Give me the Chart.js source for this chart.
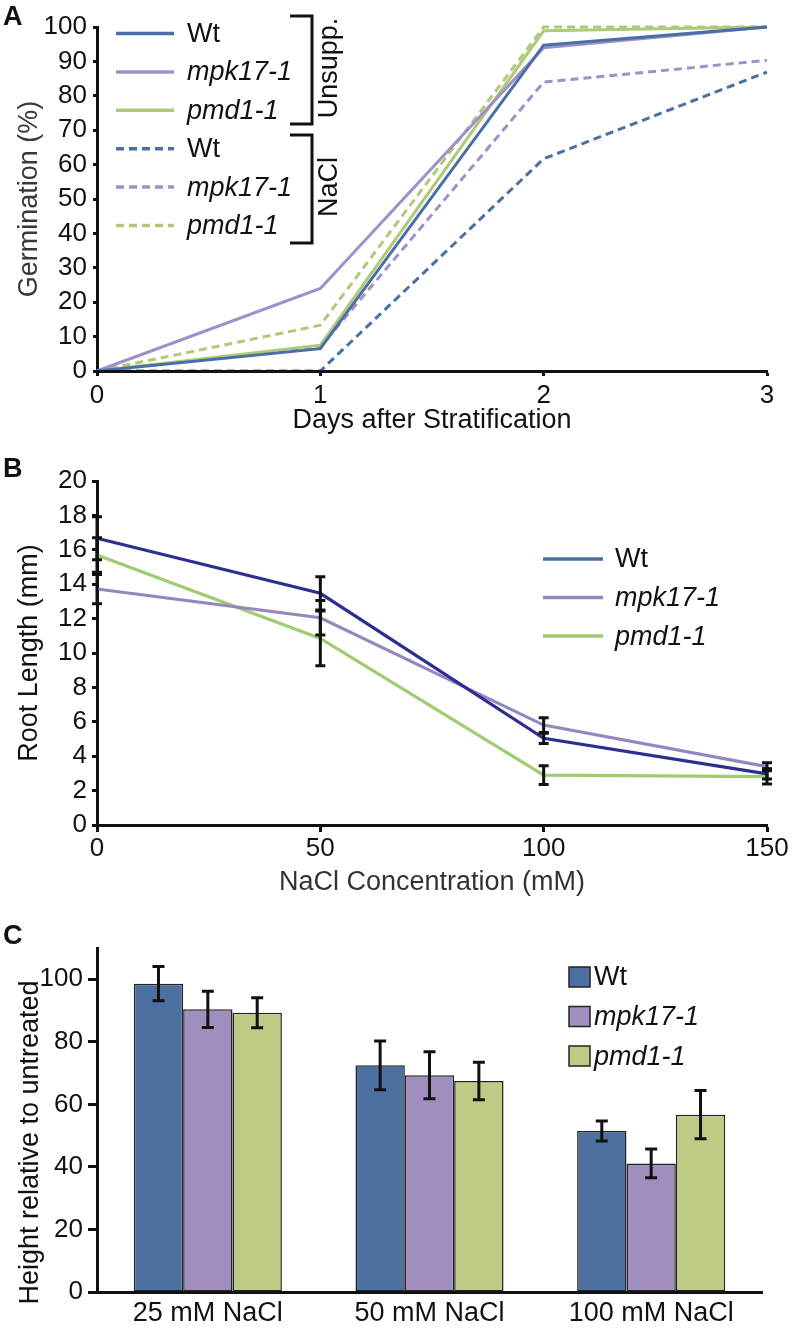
<!DOCTYPE html>
<html>
<head>
<meta charset="utf-8">
<script src="https://cdn.jsdelivr.net/npm/chart.js@4.4.1/dist/chart.umd.min.js"></script>
<style>
  html, body { margin: 0; padding: 0; background: #fff; }
  body { position: relative; width: 792px; height: 1328px; overflow: hidden; font-family: 'Liberation Sans', Arial, sans-serif; }
  canvas { position: absolute; left: 0; }
  .panel { position: absolute; left: 3px; z-index: 2; font-weight: bold; font-size: 27px; line-height: 27px; color: #111; }
</style>
</head>
<body>
<canvas id="chartA" width="792" height="440" style="top:0"></canvas>
<canvas id="chartB" width="792" height="460" style="top:440px"></canvas>
<canvas id="chartC" width="792" height="428" style="top:900px"></canvas>
<div class="panel" style="top:3px">A</div>
<div class="panel" style="top:455px">B</div>
<div class="panel" style="top:922px">C</div>
<script>
// --- A: germination ---
const days = [0, 1, 2, 3];
const germWtUnsupp = [0, 6.5, 94.7, 100];
const germMpkUnsupp = [0, 24, 94, 100];
const germPmdUnsupp = [0, 7.5, 98.9, 100];
const germWtNaCl = [0, 0, 61.7, 86.9];
const germMpkNaCl = [0, 7, 84, 90.3];
const germPmdNaCl = [0, 13.3, 100, 100];

// --- B: root length ---
const naclConc = [0, 50, 100, 150];
const rootWt = [16.67, 13.47, 5.04, 2.97];
const rootMpk = [13.72, 12.05, 5.81, 3.39];
const rootPmd = [15.7, 10.85, 2.9, 2.81];
const rootWtErr = [1.25, 0.97, 0.3, 0.3];
const rootMpkErr = [0.85, 1.0, 0.43, 0.23];
const rootPmdErr = [1.0, 1.59, 0.55, 0.43];

// --- C: height ---
const treatments = ['25 mM NaCl', '50 mM NaCl', '100 mM NaCl'];
const heightWt = [98.6, 72.5, 51.5];
const heightMpk = [90.4, 69.3, 41.1];
const heightPmd = [89.3, 67.5, 56.7];
const heightWtErr = [5.5, 7.8, 3.2];
const heightMpkErr = [5.8, 7.5, 4.6];
const heightPmdErr = [4.8, 6.0, 7.7];

const FONT = "'Liberation Sans', Arial, sans-serif";
Chart.defaults.font.family = FONT;
Chart.defaults.color = '#111';
Chart.defaults.animation = false;

const blue = '#4A6FA5', purple = '#A08FC8', green = '#AFC97A';
const navy = '#2B2F8F', purpleB = '#9486BE', greenB = '#A0CC70';

function pts(xs, ys) { return xs.map((x, i) => ({ x: x, y: ys[i] })); }

function axisStyle(tickLen, z) {
  return {
    grid: { display: true, drawOnChartArea: false, drawTicks: true, tickLength: tickLen, tickWidth: 3, tickColor: '#111' },
    border: { display: true, color: '#111', width: 3, z: z || 0 }
  };
}

function itemFont(label) {
  return (label === 'Wt' ? '' : 'italic ') + '27px ' + FONT;
}

// error bars drawn from the errs arrays through the chart scales
function errorBars(errs, cap) {
  return {
    id: 'errorBars',
    afterDatasetsDraw(chart) {
      const ctx = chart.ctx, ys = chart.scales.y;
      ctx.save();
      ctx.strokeStyle = '#111';
      ctx.lineWidth = 3;
      chart.data.datasets.forEach((ds, i) => {
        const meta = chart.getDatasetMeta(i);
        meta.data.forEach((el, j) => {
          const v = ds.data[j].y !== undefined ? ds.data[j].y : ds.data[j];
          const t = ys.getPixelForValue(v + errs[i][j]);
          const b = ys.getPixelForValue(v - errs[i][j]);
          ctx.beginPath();
          ctx.moveTo(el.x, t); ctx.lineTo(el.x, b);
          ctx.moveTo(el.x - cap, t); ctx.lineTo(el.x + cap, t);
          ctx.moveTo(el.x - cap, b); ctx.lineTo(el.x + cap, b);
          ctx.stroke();
        });
      });
      ctx.restore();
    }
  };
}

const legendA = {
  id: 'legendA',
  afterDraw(chart) {
    const ctx = chart.ctx;
    ctx.save();
    chart.data.datasets.forEach((ds, i) => {
      const y = 33.5 + i * 38.4;
      ctx.strokeStyle = ds.borderColor;
      ctx.lineWidth = 3.5;
      ctx.setLineDash(ds.borderDash || []);
      ctx.beginPath(); ctx.moveTo(116, y); ctx.lineTo(174, y); ctx.stroke();
      ctx.setLineDash([]);
      ctx.font = itemFont(ds.label);
      ctx.fillStyle = '#111';
      ctx.textBaseline = 'middle';
      ctx.fillText(ds.label, 187, y + 1);
    });
    ctx.strokeStyle = '#111';
    ctx.lineWidth = 3;
    [[16, 124], [135, 243]].forEach(([t, b]) => {
      ctx.beginPath();
      ctx.moveTo(290, t); ctx.lineTo(312, t); ctx.lineTo(312, b); ctx.lineTo(290, b);
      ctx.stroke();
    });
    ctx.font = '27px ' + FONT;
    ctx.textAlign = 'center';
    ctx.textBaseline = 'middle';
    [['Unsupp.', 68], ['NaCl', 187]].forEach(([txt, y]) => {
      ctx.save();
      ctx.translate(330, y);
      ctx.rotate(-Math.PI / 2);
      ctx.fillText(txt, 0, 0);
      ctx.restore();
    });
    ctx.restore();
  }
};

new Chart(document.getElementById('chartA'), {
  type: 'line',
  data: {
    datasets: [
      { label: 'Wt', data: pts(days, germWtUnsupp), borderColor: blue },
      { label: 'mpk17-1', data: pts(days, germMpkUnsupp), borderColor: purple },
      { label: 'pmd1-1', data: pts(days, germPmdUnsupp), borderColor: green },
      { label: 'Wt', data: pts(days, germWtNaCl), borderColor: blue, borderDash: [8, 5] },
      { label: 'mpk17-1', data: pts(days, germMpkNaCl), borderColor: purple, borderDash: [8, 5] },
      { label: 'pmd1-1', data: pts(days, germPmdNaCl), borderColor: green, borderDash: [8, 5] }
    ]
  },
  options: {
    responsive: false,
    devicePixelRatio: 1,
    layout: { padding: { top: 27, right: 25, bottom: 0, left: 0 } },
    elements: { point: { radius: 0 }, line: { borderWidth: 3, tension: 0 } },
    datasets: { line: { clip: false } },
    plugins: { legend: { display: false }, tooltip: { enabled: false } },
    scales: {
      x: Object.assign(axisStyle(5, 1), {
        type: 'linear', min: 0, max: 3,
        ticks: { stepSize: 1, padding: 4, font: { size: 26 }, color: '#111' },
        title: { display: true, text: 'Days after Stratification', color: '#111', font: { size: 27 }, padding: { top: 0, bottom: 3 } },
        afterFit: s => { s.height = 69; }
      }),
      y: Object.assign(axisStyle(4), {
        min: 0, max: 100,
        ticks: { stepSize: 10, padding: 6, font: { size: 26 }, color: '#111' },
        title: { display: true, text: 'Germination (%)', color: '#383838', font: { size: 27 }, padding: { top: 13, bottom: 0 } },
        afterFit: s => { s.width = 97; }
      })
    }
  },
  plugins: [legendA]
});

const legendColorsB = [blue, purpleB, greenB];
const legendB = {
  id: 'legendB',
  afterDraw(chart) {
    const ctx = chart.ctx;
    ctx.save();
    chart.data.datasets.forEach((ds, i) => {
      const y = 119 + i * 38.5;
      ctx.strokeStyle = legendColorsB[i];
      ctx.lineWidth = 3.5;
      ctx.beginPath(); ctx.moveTo(543, y); ctx.lineTo(603, y); ctx.stroke();
      ctx.font = itemFont(ds.label);
      ctx.fillStyle = '#111';
      ctx.textBaseline = 'middle';
      ctx.fillText(ds.label, 615, y + 1);
    });
    ctx.restore();
  }
};

new Chart(document.getElementById('chartB'), {
  type: 'line',
  data: {
    datasets: [
      { label: 'Wt', data: pts(naclConc, rootWt), borderColor: navy },
      { label: 'mpk17-1', data: pts(naclConc, rootMpk), borderColor: purpleB },
      { label: 'pmd1-1', data: pts(naclConc, rootPmd), borderColor: greenB }
    ]
  },
  options: {
    responsive: false,
    devicePixelRatio: 1,
    layout: { padding: { top: 41, right: 25, bottom: 0, left: 0 } },
    elements: { point: { radius: 0 }, line: { borderWidth: 3.2, tension: 0 } },
    datasets: { line: { clip: false } },
    plugins: { legend: { display: false }, tooltip: { enabled: false } },
    scales: {
      x: Object.assign(axisStyle(7), {
        type: 'linear', min: 0, max: 150,
        ticks: { stepSize: 50, padding: 1, font: { size: 26 }, color: '#111' },
        title: { display: true, text: 'NaCl Concentration (mM)', color: '#333', font: { size: 27 }, padding: { top: 0, bottom: 1 } },
        afterFit: s => { s.height = 75; }
      }),
      y: Object.assign(axisStyle(5), {
        min: 0, max: 20,
        ticks: { stepSize: 2, padding: 5, font: { size: 26 }, color: '#111' },
        title: { display: true, text: 'Root Length (mm)', color: '#111', font: { size: 27 }, padding: { top: 13, bottom: 0 } },
        afterFit: s => { s.width = 97; }
      })
    }
  },
  plugins: [errorBars([rootWtErr, rootMpkErr, rootPmdErr], 5), legendB]
});

const legendC = {
  id: 'legendC',
  afterDraw(chart) {
    const ctx = chart.ctx;
    ctx.save();
    chart.data.datasets.forEach((ds, i) => {
      const y = 77 + i * 39.5;
      ctx.fillStyle = ds.backgroundColor;
      ctx.fillRect(569, y - 10, 21, 20);
      ctx.strokeStyle = '#222';
      ctx.lineWidth = 1.5;
      ctx.strokeRect(569, y - 10, 21, 20);
      ctx.font = itemFont(ds.label);
      ctx.fillStyle = '#111';
      ctx.textBaseline = 'middle';
      ctx.fillText(ds.label, 594, y + 1);
    });
    ctx.restore();
  }
};

new Chart(document.getElementById('chartC'), {
  type: 'bar',
  data: {
    labels: treatments,
    datasets: [
      { label: 'Wt', data: heightWt, backgroundColor: '#4C71A1' },
      { label: 'mpk17-1', data: heightMpk, backgroundColor: '#A08FBE' },
      { label: 'pmd1-1', data: heightPmd, backgroundColor: '#BECB84' }
    ]
  },
  options: {
    responsive: false,
    devicePixelRatio: 1,
    layout: { padding: { top: 48, right: 30, bottom: 0, left: 0 } },
    datasets: { bar: { categoryPercentage: 0.668, barPercentage: 1, borderWidth: 1.5, borderColor: '#222', borderSkipped: false } },
    plugins: { legend: { display: false }, tooltip: { enabled: false } },
    scales: {
      x: {
        grid: { display: false, drawTicks: false },
        border: { display: true, color: '#111', width: 3 },
        ticks: { padding: 5, font: { size: 27 }, color: '#111' },
        afterFit: s => { s.height = 36; }
      },
      y: Object.assign(axisStyle(9), {
        min: 0, max: 110,
        ticks: { stepSize: 20, padding: 5, font: { size: 26 }, color: '#111' },
        afterBuildTicks: s => { s.ticks = s.ticks.filter(t => t.value <= 100); },
        title: { display: true, text: 'Height relative to untreated      ', color: '#111', font: { size: 27 }, padding: { top: 14, bottom: 0 } },
        afterFit: s => { s.width = 97; }
      })
    }
  },
  plugins: [errorBars([heightWtErr, heightMpkErr, heightPmdErr], 6), legendC]
});
</script>
</body>
</html>
